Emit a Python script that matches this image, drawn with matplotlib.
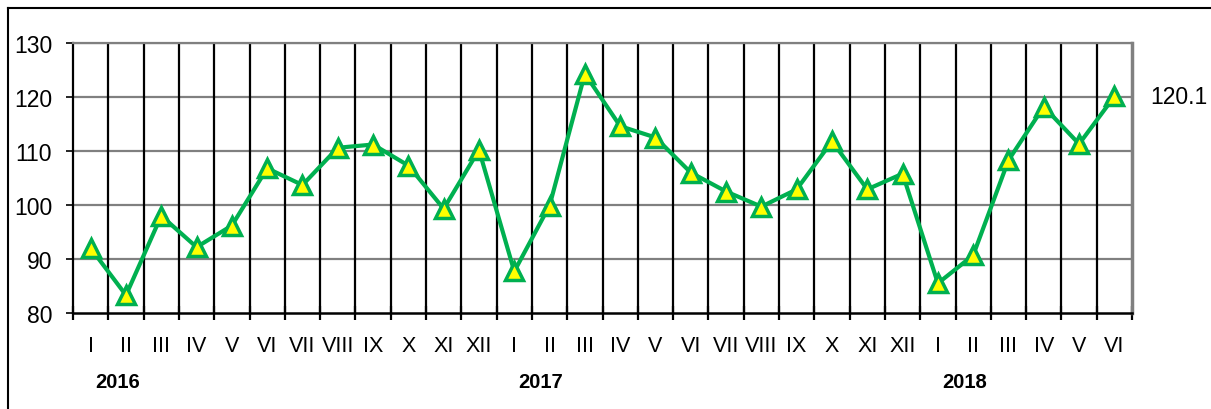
import matplotlib
matplotlib.use("Agg")
import matplotlib.pyplot as plt
import numpy as np
from matplotlib.lines import Line2D

plt.rcParams['font.family'] = ['Liberation Sans', 'DejaVu Sans']

# monthly index values, Jan 2016 - Jun 2018
months = ['I', 'II', 'III', 'IV', 'V', 'VI', 'VII', 'VIII', 'IX', 'X', 'XI', 'XII',
          'I', 'II', 'III', 'IV', 'V', 'VI', 'VII', 'VIII', 'IX', 'X', 'XI', 'XII',
          'I', 'II', 'III', 'IV', 'V', 'VI']
values = [92.0, 83.3, 98.0, 92.2, 96.2, 106.8, 103.7, 110.6, 111.2, 107.3, 99.3, 110.2,
          87.7, 99.9, 124.3, 114.6, 112.5, 106.0, 102.5, 99.7, 102.9, 111.8, 102.9, 105.8,
          85.5, 90.7, 108.3, 118.2, 111.3, 120.1]
years = ['2016', '2017', '2018']
year_start = [0, 12, 24]
last_label = '120.1'

fig = plt.figure(figsize=(12.11, 4.10), dpi=100)
ax = fig.add_axes([0.0603, 0.2341, 0.8745, 0.6586])

n = len(values)
x = np.arange(n)

# gridlines
for yv in [90, 100, 110, 120, 130]:
    ax.axhline(yv, color='#808080', lw=1.6, zorder=1)
for b in range(1, n):
    ax.axvline(b - 0.5, color='black', lw=1.6, zorder=1)

ax.plot(x, values, color='#00B050', lw=3, marker='^', markersize=13.5,
        markerfacecolor='#FFFF00', markeredgecolor='#00B050', markeredgewidth=2.5,
        zorder=3, clip_on=False)

ax.set_xlim(-0.5, n - 0.5)
ax.set_ylim(80, 130)
ax.set_yticks([80, 90, 100, 110, 120, 130])
ax.tick_params(axis='y', labelsize=16.5, length=5, width=1.2, pad=10, color='black')

ax.set_xticks(np.arange(-0.5, n, 1.0))
ax.set_xticklabels([])
ax.tick_params(axis='x', which='major', direction='inout', length=10, width=1.6)
ax.set_xticks(x, minor=True)
ax.set_xticklabels(months, minor=True)
ax.tick_params(axis='x', which='minor', length=0, labelsize=15.5, pad=16)

ax.spines['top'].set_color('#808080')
ax.spines['right'].set_color('#808080')
ax.spines['right'].set_linewidth(2.5)
ax.spines['top'].set_linewidth(1.6)
ax.spines['left'].set_linewidth(1.6)
ax.spines['bottom'].set_linewidth(1.8)

trans = matplotlib.transforms.blended_transform_factory(ax.transData, fig.transFigure)
for yr, s in zip(years, year_start):
    ax.text(s + 0.75, 0.068, yr, transform=trans, ha='center', va='center',
            fontsize=14.5, fontweight='bold')

trans_r = matplotlib.transforms.blended_transform_factory(ax.transAxes, ax.transData)
ax.text(1.017, values[-1], last_label, transform=trans_r,
        ha='left', va='center', fontsize=16.5)

# outer frame (left and top only)
fig.add_artist(Line2D([8 / 1211, 8 / 1211], [0, 1 - 9 / 410], transform=fig.transFigure, color='black', lw=1.5))
fig.add_artist(Line2D([8 / 1211, 1], [1 - 9 / 410, 1 - 9 / 410], transform=fig.transFigure, color='black', lw=1.5))

fig.savefig('out.png', dpi=100)
